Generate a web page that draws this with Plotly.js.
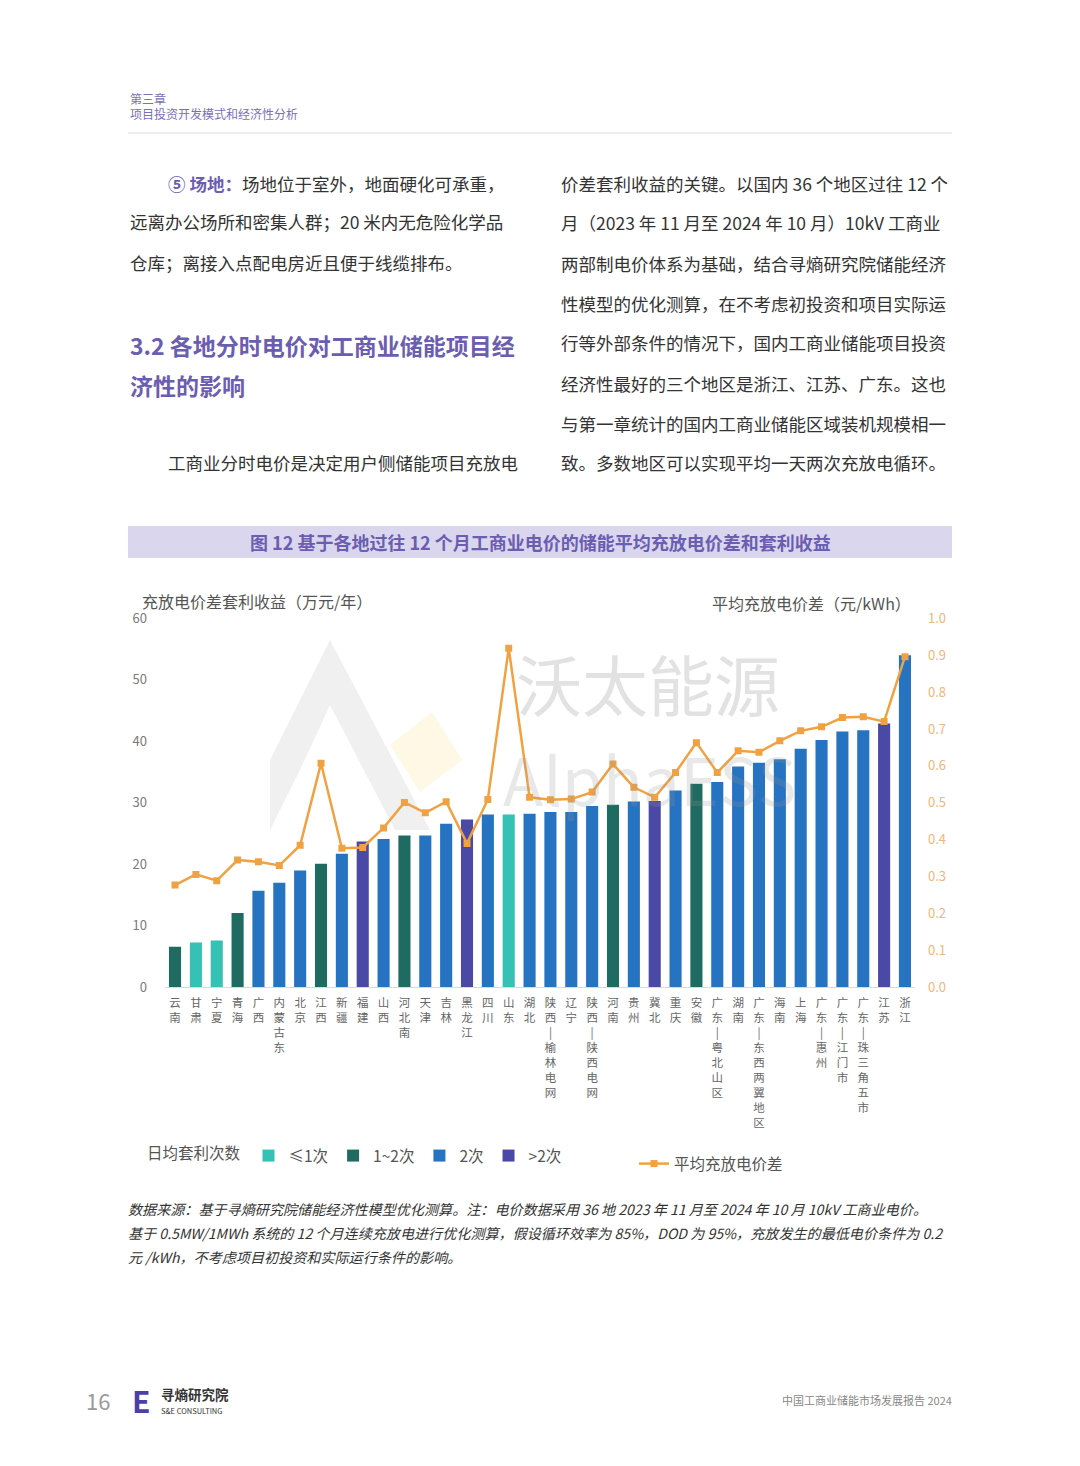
<!DOCTYPE html>
<html>
<head>
<meta charset="utf-8">
<script src="https://cdn.plot.ly/plotly-3.0.1.min.js"></script>
<style>html,body{margin:0;padding:0;background:#fff;}#chart{width:1080px;height:1466px;}</style>
</head>
<body>
<div id="chart"></div>
<script>
// ---------------- DATA ----------------
const categories = ['云南','甘肃','宁夏','青海','广西','内蒙古东','北京','江西','新疆','福建','山西','河北南','天津','吉林','黑龙江','四川','山东','湖北','陕西-榆林电网','辽宁','陕西-陕西电网','河南','贵州','冀北','重庆','安徽','广东-粤北山区','湖南','广东-东西两翼地区','海南','上海','广东-惠州','广东-江门市','广东-珠三角五市','江苏','浙江'];
const revenue = [6.6,7.3,7.6,12.1,15.7,17.0,19.0,20.1,21.7,23.7,24.1,24.7,24.7,26.6,27.3,28.1,28.1,28.2,28.5,28.5,29.5,29.7,30.2,30.3,32.0,33.1,33.4,35.9,36.5,37.1,38.8,40.2,41.6,41.8,42.9,54.0];
const spread = [0.277,0.306,0.289,0.345,0.340,0.330,0.385,0.607,0.377,0.379,0.432,0.501,0.473,0.503,0.390,0.509,0.919,0.515,0.508,0.510,0.529,0.605,0.542,0.515,0.582,0.663,0.582,0.641,0.637,0.668,0.695,0.706,0.731,0.733,0.720,0.896];
const cycleGroup = ['1~2次','≤1次','≤1次','1~2次','2次','2次','2次','1~2次','2次','>2次','2次','1~2次','2次','2次','>2次','2次','≤1次','2次','2次','2次','2次','1~2次','2次','>2次','2次','1~2次','2次','2次','2次','2次','2次','2次','2次','2次','>2次','2次'];
const groupNames = ['≤1次','1~2次','2次','>2次'];
const groupColors = ['#35C1B3','#1F6B61','#2673C2','#4A4AA6'];
const lineName = '平均充放电价差';
const leftTitle = '充放电价差套利收益（万元/年）';
const rightTitle = '平均充放电价差（元/kWh）';
const legendTitle = '日均套利次数';
const chartTitle = '图 12 基于各地过往 12 个月工商业电价的储能平均充放电价差和套利收益';

// ---------------- HELPERS ----------------
const W = 1080, H = 1466;
const px = x => x / W;
const py = y => 1 - y / H;
const FONT = '"Noto Sans CJK SC", "Noto Sans", sans-serif';
const stackLabel = s => s.replace(/-/g, '|').split('').join('<br>');

// ---------------- TRACES ----------------
const traces = groupNames.map((g, gi) => {
  const xs = [], ys = [];
  categories.forEach((c, i) => { if (cycleGroup[i] === g) { xs.push(c); ys.push(revenue[i]); } });
  return {
    type: 'bar', name: g, x: xs, y: ys,
    marker: {color: groupColors[gi]},
    legend: 'legend', hoverinfo: 'x+y'
  };
});
traces.push({
  type: 'scatter', mode: 'lines+markers', name: lineName,
  x: categories, y: spread, yaxis: 'y2', legend: 'legend2',
  line: {color: '#F0A243', width: 2.5},
  marker: {symbol: 'square', size: 7, color: '#F0A243'}
});

// ---------------- TEXT ----------------
const ann = [];
function T(x, y, text, size, color, opts) {
  ann.push(Object.assign({
    xref: 'paper', yref: 'paper', x: px(x), y: py(y), text: text,
    showarrow: false, xanchor: 'left', yanchor: 'middle',
    font: {family: FONT, size: size, color: color}
  }, opts || {}));
}
const BODY = '#333333', PURPLE = '#6B5DB0';
// header
T(128, 98, '第三章', 12, '#7B70B5');
T(128, 114, '项目投资开发模式和经济性分析', 12, '#7B70B5');
// left column
T(166, 183, '<b><span style="color:' + PURPLE + '">⑤ 场地：</span></b>场地位于室外，地面硬化可承重，', 17.5, BODY);
T(128, 222, '远离办公场所和密集人群；20 米内无危险化学品', 17.5, BODY);
T(128, 262, '仓库；离接入点配电房近且便于线缆排布。', 17.5, BODY);
T(128, 345, '<b>3.2 各地分时电价对工商业储能项目经</b>', 23, PURPLE);
T(128, 385, '<b>济性的影响</b>', 23, PURPLE);
T(166, 462, '工商业分时电价是决定用户侧储能项目充放电', 17.5, BODY);
// right column
const rightLines = [
  '价差套利收益的关键。以国内 36 个地区过往 12 个',
  '月（2023 年 11 月至 2024 年 10 月）10kV 工商业',
  '两部制电价体系为基础，结合寻熵研究院储能经济',
  '性模型的优化测算，在不考虑初投资和项目实际运',
  '行等外部条件的情况下，国内工商业储能项目投资',
  '经济性最好的三个地区是浙江、江苏、广东。这也',
  '与第一章统计的国内工商业储能区域装机规模相一',
  '致。多数地区可以实现平均一天两次充放电循环。'
];
rightLines.forEach((l, i) => T(559, 183 + i * 40, l, 17.5, BODY));
// chart title band
T(540, 542, '<b>' + chartTitle + '</b>', 18, PURPLE, {xanchor: 'center'});
// axis titles
T(140, 601, leftTitle, 16, '#555555');
T(913, 603, rightTitle, 16, '#555555', {xanchor: 'right'});
// watermark
T(648, 682, '沃太能源', 66, 'rgba(150,150,150,0.28)', {xanchor: 'center'});
T(650, 777, 'AlphaESS', 66, 'rgba(150,150,150,0.22)', {xanchor: 'center'});
// footnote
const foot = [
  '数据来源：基于寻熵研究院储能经济性模型优化测算。注：电价数据采用 36 地 2023 年 11 月至 2024 年 10 月 10kV 工商业电价。',
  '基于 0.5MW/1MWh 系统的 12 个月连续充放电进行优化测算，假设循环效率为 85%，DOD 为 95%，充放发生的最低电价条件为 0.2',
  '元 /kWh，不考虑项目初投资和实际运行条件的影响。'
];
foot.forEach((l, i) => T(126, 1209 + i * 24, '<i>' + l + '</i>', 14.1, BODY));
// footer
T(84, 1400, '16', 22, '#9A9A9A');
T(141, 1400, '<b>E</b>', 30, '#4E3FA6', {xanchor: 'center'});
T(159, 1394, '<b>寻熵研究院</b>', 13.5, '#333333');
T(159, 1410, 'S&amp;E CONSULTING', 7.5, '#333333');
T(954, 1400, '中国工商业储能市场发展报告 2024', 11, '#888888', {xanchor: 'right'});

// ---------------- SHAPES ----------------
const shapes = [
  {type: 'line', xref: 'paper', yref: 'paper', x0: px(128), x1: px(952), y0: py(133), y1: py(133), line: {color: '#DDDDDD', width: 1}},
  {type: 'rect', xref: 'paper', yref: 'paper', x0: px(128), x1: px(952), y0: py(526), y1: py(558), fillcolor: '#DAD6EE', line: {width: 0}, layer: 'below'},
  // watermark logo (faint)
  {type: 'path', xref: 'paper', yref: 'paper', layer: 'below', fillcolor: 'rgba(170,170,170,0.18)', line: {width: 0},
   path: 'M ' + px(330) + ' ' + py(640) + ' L ' + px(430) + ' ' + py(830) + ' L ' + px(395) + ' ' + py(830) + ' L ' + px(330) + ' ' + py(705) + ' L ' + px(300) + ' ' + py(770) + ' L ' + px(270) + ' ' + py(830) + ' L ' + px(270) + ' ' + py(760) + ' Z'},
  {type: 'path', xref: 'paper', yref: 'paper', layer: 'below', fillcolor: 'rgba(250,225,130,0.22)', line: {width: 0},
   path: 'M ' + px(390) + ' ' + py(745) + ' L ' + px(432) + ' ' + py(712) + ' L ' + px(462) + ' ' + py(760) + ' L ' + px(420) + ' ' + py(792) + ' Z'}
];

// ---------------- LAYOUT ----------------
const layout = {
  width: W, height: H,
  margin: {l: 0, r: 0, t: 0, b: 0},
  paper_bgcolor: '#FFFFFF', plot_bgcolor: 'rgba(0,0,0,0)',
  font: {family: FONT, color: '#555'},
  barmode: 'overlay', bargap: 0.42,
  showlegend: true,
  xaxis: {
    domain: [px(164.6), px(915.4)],
    type: 'category', categoryorder: 'array', categoryarray: categories,
    range: [-0.5, 35.5],
    tickvals: categories, ticktext: categories.map(stackLabel),
    tickangle: 0, tickfont: {size: 11.5, color: '#666666', family: FONT},
    ticks: 'outside', ticklen: 5, tickcolor: 'rgba(0,0,0,0)',
    showline: true, linecolor: '#DADADA', linewidth: 1,
    showgrid: false, zeroline: false, fixedrange: true
  },
  yaxis: {
    domain: [py(987.3), py(618.3)],
    range: [0, 60], dtick: 10, showgrid: false, zeroline: false, showline: false,
    ticks: 'outside', ticklen: 14, tickcolor: 'rgba(0,0,0,0)',
    tickfont: {size: 13, color: '#7A7A7A', family: FONT}
  },
  yaxis2: {
    overlaying: 'y', side: 'right', anchor: 'x',
    range: [0, 1], dtick: 0.1, tickformat: '.1f',
    showgrid: false, zeroline: false, showline: false,
    ticks: 'outside', ticklen: 9, tickcolor: 'rgba(0,0,0,0)',
    tickfont: {size: 13, color: '#EDB77C', family: FONT}
  },
  legend: {
    orientation: 'h', x: px(145), y: py(1156), xanchor: 'left', yanchor: 'middle',
    title: {text: legendTitle, side: 'left', font: {size: 15.5, color: '#555555', family: FONT}},
    font: {size: 15.5, color: '#555555', family: FONT},
    bgcolor: 'rgba(0,0,0,0)', itemclick: false, itemdoubleclick: false,
    tracegroupgap: 0, traceorder: 'normal'
  },
  legend2: {
    orientation: 'h', x: px(634), y: py(1164), xanchor: 'left', yanchor: 'middle',
    font: {size: 15.5, color: '#555555', family: FONT},
    bgcolor: 'rgba(0,0,0,0)'
  },
  annotations: ann,
  shapes: shapes
};

Plotly.newPlot('chart', traces, layout, {displayModeBar: false, staticPlot: true});
</script>
</body>
</html>
